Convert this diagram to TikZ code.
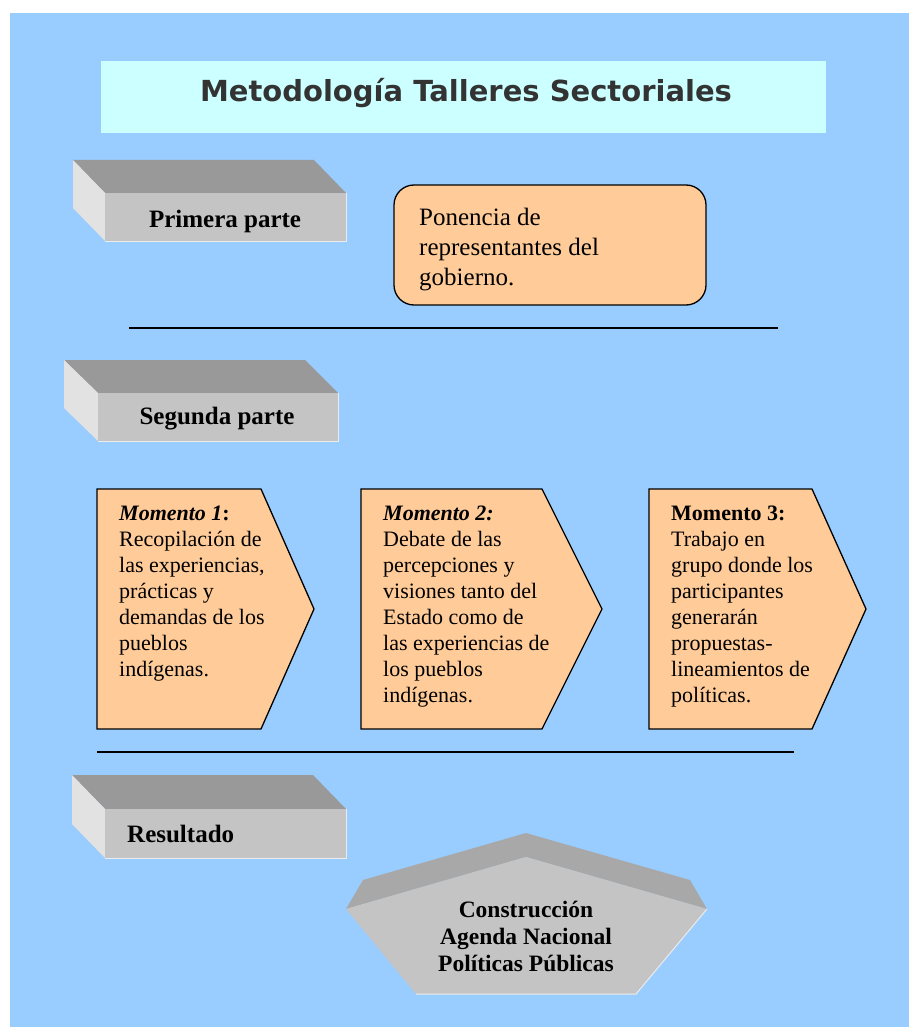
\documentclass[tikz,border=0pt]{standalone}
\usepackage{fontspec}
\setmainfont{Liberation Serif}
\newfontfamily\titlefont{DejaVu Sans}
\usepackage{tikz}

\definecolor{fondo}{HTML}{99CCFF}
\definecolor{titulo}{HTML}{CCFFFF}
\definecolor{durazno}{HTML}{FFCC99}
\definecolor{grisfrente}{HTML}{C4C4C4}
\definecolor{gristapa}{HTML}{999999}
\definecolor{grislado}{HTML}{E2E2E2}
\definecolor{gristexto}{HTML}{333333}

\tikzset{
  frente/.style={fill=grisfrente},
  tapa/.style={fill=gristapa},
  lado/.style={fill=grislado},
  peach/.style={fill=durazno,draw=black,line width=1.3pt,line join=miter},
  etiqueta/.style={inner sep=0pt,font=\fontsize{25}{29}\selectfont\bfseries},
  momtext/.style={inner sep=0pt,anchor=north west,align=left,font=\fontsize{22}{26}\selectfont},
  separador/.style={line width=1.6pt},
}

\begin{document}
\begin{tikzpicture}[x=1pt,y=-1pt]
\useasboundingbox (0,0) rectangle (909,1027);
\fill[fondo] (10,13) rectangle (909,1027);
% titulo
\fill[titulo] (101,61) rectangle (826,133);
\node[anchor=base,inner sep=0pt,text=gristexto,font=\titlefont\fontsize{29}{33}\selectfont\bfseries] (tit) at (466,102) {Metodología Talleres Sectoriales};

% primera parte
\begin{scope}[shift={(105,193)}]
\fill[tapa] (0,0) -- (-32,-33) -- (209,-33) -- (241,0) -- cycle;
\fill[lado] (0,0) -- (-32,-33) -- (-32,15) -- (0,48) -- cycle;
\fill[frente] (0,0) rectangle (241,48);
\draw[white!85!gray,line width=1pt] (241,0) -- (241,48) -- (0,48);
\end{scope}
\node[etiqueta,anchor=base] (primera) at (225,227) {Primera parte};

\draw[peach,rounded corners=20pt] (394,185) rectangle (706,305);
\node[momtext,font=\fontsize{25}{30}\selectfont] (ponencia) at (419,208) {Ponencia de\\representantes del\\gobierno.};

\draw[separador] (129,328) -- (778,328);

% segunda parte
\begin{scope}[shift={(98,393)}]
\fill[tapa] (0,0) -- (-34,-33) -- (207,-33) -- (240,0) -- cycle;
\fill[lado] (0,0) -- (-34,-33) -- (-34,15) -- (0,48) -- cycle;
\fill[frente] (0,0) rectangle (240,48);
\draw[white!85!gray,line width=1pt] (240,0) -- (240,48) -- (0,48);
\end{scope}
\node[etiqueta,anchor=base] (segunda) at (217,424) {Segunda parte};

% momentos
\draw[peach] (97,489) -- (261,489) -- (314,609) -- (261,729) -- (97,729) -- cycle;
\node[momtext] (mom1) at (119,506) {\textbf{\textit{Momento 1}:}\\Recopilación de\\las experiencias,\\prácticas y\\demandas de los\\pueblos\\indígenas.};
\draw[peach] (361,489) -- (542,489) -- (602,609) -- (542,729) -- (361,729) -- cycle;
\node[momtext] (mom2) at (383,506) {\textbf{\textit{Momento 2:}}\\Debate de las\\percepciones y\\visiones tanto del\\Estado como de\\las experiencias de\\los pueblos\\indígenas.};
\draw[peach] (649,489) -- (812,489) -- (866,609) -- (812,729) -- (649,729) -- cycle;
\node[momtext] (mom3) at (671,506) {\textbf{Momento 3:}\\Trabajo en\\grupo donde los\\participantes\\generarán\\propuestas-\\lineamientos de\\políticas.};

\draw[separador] (97,752) -- (794,752);

% resultado
\begin{scope}[shift={(105,809)}]
\fill[tapa] (0,0) -- (-33,-34) -- (208,-34) -- (241,0) -- cycle;
\fill[lado] (0,0) -- (-33,-34) -- (-33,15) -- (0,49) -- cycle;
\fill[frente] (0,0) rectangle (241,49);
\draw[white!85!gray,line width=1pt] (241,0) -- (241,49) -- (0,49);
\end{scope}
\node[etiqueta,anchor=base west] (resultado) at (127,842) {Resultado};

% pentagono
\fill[gristapa!85!white] (346,909) -- (363,880) -- (526,833) -- (690,880) -- (707,909) -- (526,857) -- cycle;
\fill[frente] (346,909) -- (526,857) -- (707,909) -- (636,994) -- (416,994) -- cycle;
\draw[white!85!gray,line width=1pt] (707,909) -- (636,994) -- (416,994);
\node[etiqueta,align=center,font=\fontsize{23.5}{27}\selectfont\bfseries] (agenda) at (526,936) {Construcción\\Agenda Nacional\\Políticas Públicas};
\end{tikzpicture}
\end{document}
